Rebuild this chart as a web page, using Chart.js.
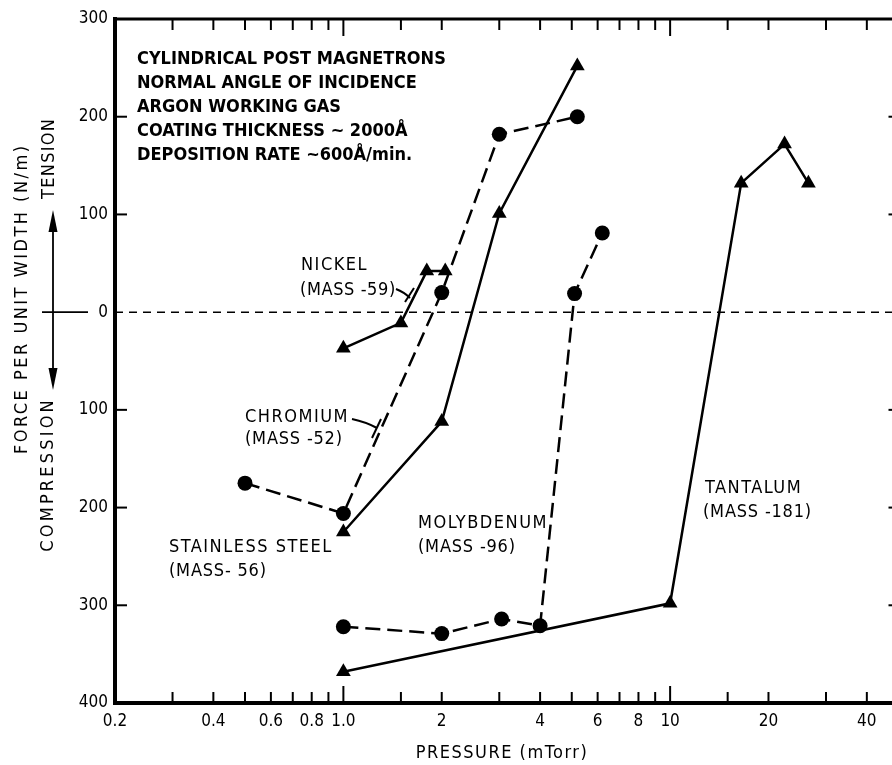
<!DOCTYPE html>
<html>
<head>
<meta charset="utf-8">
<script src="https://cdn.jsdelivr.net/npm/chart.js@4.4.1/dist/chart.umd.min.js"></script>
<style>
  html, body { margin: 0; padding: 0; background: #fff; overflow: hidden; }
  #wrap { width: 907px; height: 765px; }
</style>
</head>
<body>
<div id="wrap"><canvas id="stress-chart" width="907" height="765"></canvas></div>
<script>
// values (pressure in mTorr, force in N/m; compression < 0)
const nickelPressure = [1.0, 1.5, 1.8, 2.05];
const nickelForce = [-37, -11, 42, 42];

const chromiumPressure = [0.5, 1.0, 2.0, 3.0, 5.2];
const chromiumForce = [-175, -206, 20, 182, 200];

const steelPressure = [1.0, 2.0, 3.0, 5.2];
const steelForce = [-225, -112, 101, 252];

const molyPressure = [1.0, 2.0, 3.05, 4.0, 5.1, 6.2];
const molyForce = [-322, -329, -314, -321, 19, 81];

const tantalumPressure = [1.0, 10, 16.5, 22.4, 26.5];
const tantalumForce = [-368, -298, 132, 172, 132];

const xTickValues = [0.2, 0.3, 0.4, 0.5, 0.6, 0.7, 0.8, 0.9, 1, 1.5, 2, 3, 4, 5, 6, 7, 8, 9, 10, 15, 20, 30, 40];
const xLabelValues = [0.2, 0.4, 0.6, 0.8, 1, 2, 4, 6, 8, 10, 20, 40];
const xLabelTexts = ["0.2", "0.4", "0.6", "0.8", "1.0", "2", "4", "6", "8", "10", "20", "40"];
const yTickValues = [-400, -300, -200, -100, 0, 100, 200, 300];

const FONT = '"DejaVu Sans Condensed", "Liberation Sans Narrow", "DejaVu Sans", sans-serif';

const toPoints = (xs, ys) => xs.map((x, i) => ({ x: x, y: ys[i] }));

function series(label, xs, ys, style, dashed) {
  return {
    label: label,
    data: toPoints(xs, ys),
    borderColor: "#000",
    backgroundColor: "#000",
    borderWidth: 2.5,
    borderDash: dashed ? [15, 7] : [],
    pointStyle: style,
    pointRadius: style === "circle" ? 7.5 : 8.5,
    pointBackgroundColor: "#000",
    pointBorderColor: "#000",
    pointBorderWidth: 0,
    tension: 0,
  };
}

function line(ctx, x1, y1, x2, y2) {
  ctx.beginPath();
  ctx.moveTo(x1, y1);
  ctx.lineTo(x2, y2);
  ctx.stroke();
}

function vtext(ctx, t, x, y, spacing) {
  ctx.save();
  ctx.translate(x, y);
  ctx.rotate(-Math.PI / 2);
  ctx.letterSpacing = spacing + "px";
  ctx.fillText(t, spacing / 2, 0);
  ctx.restore();
}

const framePlugin = {
  id: "frame",
  afterDraw(chart) {
    const ctx = chart.ctx;
    const xs = chart.scales.x;
    const ys = chart.scales.y;
    const { left, right, top, bottom } = chart.chartArea;
    ctx.save();
    ctx.strokeStyle = "#000";
    ctx.fillStyle = "#000";

    // box
    ctx.lineWidth = 4;
    line(ctx, left, top - 2, left, bottom + 2);
    line(ctx, left - 2, bottom, right, bottom);
    ctx.lineWidth = 3;
    line(ctx, left, top, right, top);
    line(ctx, right, top, right, bottom);

    // inward ticks
    ctx.lineWidth = 2;
    xTickValues.forEach((v) => {
      const px = xs.getPixelForValue(v);
      const len = v === 1 || v === 10 ? 17 : 11;
      line(ctx, px, bottom, px, bottom - len);
      line(ctx, px, top, px, top + len);
    });
    [-300, -200, -100, 100, 200].forEach((v) => {
      const py = ys.getPixelForValue(v);
      line(ctx, left, py, left + 12, py);
      line(ctx, right, py, right - 10, py);
    });

    // x axis title
    ctx.textAlign = "center";
    ctx.textBaseline = "middle";
    ctx.font = "18px " + FONT;
    ctx.letterSpacing = "1.5px";
    ctx.fillText("PRESSURE (mTorr)", 502, 753);

    // y axis label with tension / compression arrows
    const y0 = ys.getPixelForValue(0);
    vtext(ctx, "FORCE PER UNIT WIDTH (N/m)", 22, 300, 2.5);
    vtext(ctx, "TENSION", 49, 159, 1.3);
    vtext(ctx, "COMPRESSION", 48, 476, 3.2);

    ctx.lineWidth = 1.8;
    line(ctx, 53, 228, 53, 372);
    line(ctx, 42, y0, 88, y0);
    ctx.beginPath();
    ctx.moveTo(53, 210);
    ctx.lineTo(57.5, 232);
    ctx.lineTo(48.5, 232);
    ctx.closePath();
    ctx.fill();
    ctx.beginPath();
    ctx.moveTo(53, 390);
    ctx.lineTo(57.5, 368);
    ctx.lineTo(48.5, 368);
    ctx.closePath();
    ctx.fill();

    // notes
    ctx.textAlign = "left";
    ctx.letterSpacing = "0px";
    ctx.font = "bold 18px " + FONT;
    const notes = [
      "CYLINDRICAL POST MAGNETRONS",
      "NORMAL ANGLE OF INCIDENCE",
      "ARGON WORKING GAS",
      "COATING THICKNESS ~ 2000Å",
      "DEPOSITION RATE ~600Å/min.",
    ];
    notes.forEach((t, i) => ctx.fillText(t, 137, 59 + i * 24));

    ctx.font = "18px " + FONT;
    const labels = [
      ["NICKEL", 301, 265, 1.5],
      ["(MASS -59)", 300, 290, 0.6],
      ["CHROMIUM", 245, 417, 1.5],
      ["(MASS -52)", 245, 439, 0.8],
      ["STAINLESS STEEL", 169, 547, 1.5],
      ["(MASS- 56)", 169, 571, 0.8],
      ["MOLYBDENUM", 418, 523, 1.5],
      ["(MASS -96)", 418, 547, 0.8],
      ["TANTALUM", 705, 488, 1.5],
      ["(MASS -181)", 703, 512, 0.8],
    ];
    labels.forEach(([t, x, y, sp]) => {
      ctx.letterSpacing = sp + "px";
      ctx.fillText(t, x, y);
    });
    ctx.letterSpacing = "0px";

    // leader lines
    ctx.lineWidth = 2;
    ctx.beginPath();
    ctx.moveTo(396, 289);
    ctx.quadraticCurveTo(404, 292, 410, 298);
    ctx.stroke();
    line(ctx, 405, 302, 414, 288);
    ctx.beginPath();
    ctx.moveTo(352, 419);
    ctx.quadraticCurveTo(366, 422, 377, 428);
    ctx.stroke();
    line(ctx, 372, 438, 381, 419);

    ctx.restore();
  },
};

new Chart(document.getElementById("stress-chart"), {
  type: "line",
  data: {
    datasets: [
      {
        label: "zero",
        data: [{ x: 0.2, y: 0 }, { x: 50, y: 0 }],
        borderColor: "#000",
        borderWidth: 1.5,
        borderDash: [8, 6],
        pointRadius: 0,
      },
      series("Nickel", nickelPressure, nickelForce, "triangle", false),
      series("Chromium", chromiumPressure, chromiumForce, "circle", true),
      series("Stainless steel", steelPressure, steelForce, "triangle", false),
      series("Molybdenum", molyPressure, molyForce, "circle", true),
      series("Tantalum", tantalumPressure, tantalumForce, "triangle", false),
    ],
  },
  options: {
    responsive: false,
    animation: false,
    events: [],
    layout: { padding: { left: 0, right: 2, top: 19, bottom: 0 } },
    plugins: { legend: { display: false }, tooltip: { enabled: false } },
    scales: {
      x: {
        type: "logarithmic",
        min: 0.2,
        max: 50,
        afterBuildTicks: (scale) => {
          scale.ticks = xLabelValues.map((v) => ({ value: v }));
        },
        afterFit: (scale) => {
          scale.height = 62;
        },
        grid: { display: false, drawTicks: false },
        border: { display: false },
        ticks: {
          autoSkip: false,
          maxRotation: 0,
          padding: 8,
          color: "#000",
          font: { family: FONT, size: 17 },
          callback: (value) => {
            const i = xLabelValues.indexOf(value);
            return i >= 0 ? xLabelTexts[i] : "";
          },
        },
      },
      y: {
        type: "linear",
        min: -400,
        max: 300,
        afterBuildTicks: (scale) => {
          scale.ticks = yTickValues.map((v) => ({ value: v }));
        },
        afterFit: (scale) => {
          scale.width = 115;
        },
        grid: { display: false, drawTicks: false },
        border: { display: false },
        ticks: {
          padding: 7,
          color: "#000",
          font: { family: FONT, size: 17 },
          callback: (value) => String(Math.abs(value)),
        },
      },
    },
  },
  plugins: [framePlugin],
});
</script>
</body>
</html>
